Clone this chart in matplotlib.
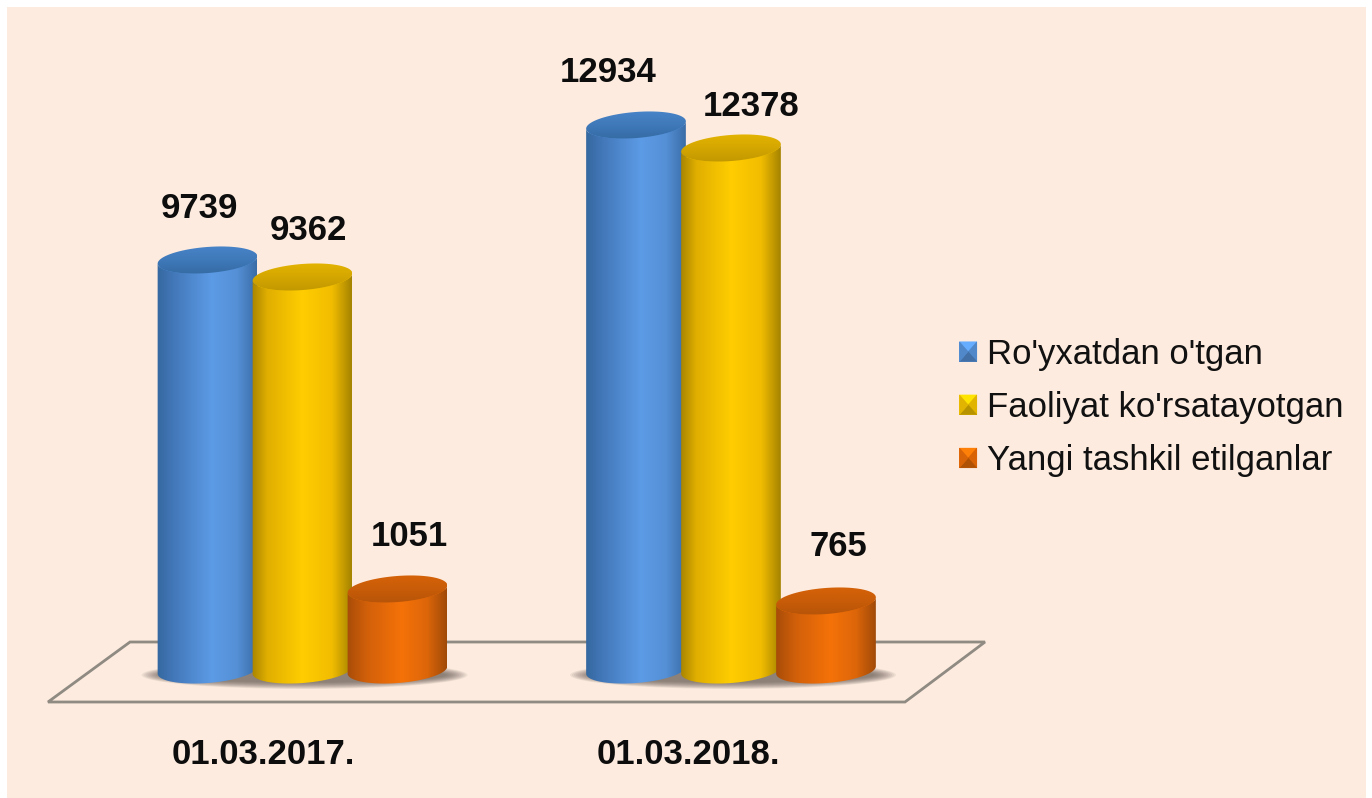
import numpy as np
import matplotlib
matplotlib.use("Agg")
import matplotlib.pyplot as plt
from matplotlib.patches import Polygon, Rectangle, Ellipse
from matplotlib.colors import LinearSegmentedColormap, to_rgb

# ---------- data ----------
dates = ["01.03.2017.", "01.03.2018."]
series_names = ["Ro'yxatdan o'tgan", "Faoliyat ko'rsatayotgan", "Yangi tashkil etilganlar"]
registered = [9739, 12934]
active = [9362, 12378]
new_orgs = [1051, 765]

# the source's 3D projection is not linear: value -> pixels above the floor
scale_values = [0, 765, 1051, 9362, 9739, 12378, 12934, 16500]
scale_pixels = [0, 69, 81, 393, 410, 522, 545, 700]

W, H = 1372, 798
BASE_Y = 670
BG = "#fdebdf"
plt.rcParams["font.family"] = ["Liberation Sans", "DejaVu Sans"]

fig = plt.figure(figsize=(W / 100, H / 100), dpi=100, facecolor="white")
fig.add_artist(Rectangle((7 / W, 0), (W - 13) / W, (H - 7) / H,
                         transform=fig.transFigure, fc=BG, ec="none"))

# main axes: real bars through a custom value scale
GROUP_PX = 428.5
X0_PX = 302.5
ax = fig.add_axes([0, (H - BASE_Y) / H, 1, BASE_Y / H])
ax.set_yscale("function", functions=(lambda v: np.interp(v, scale_values, scale_pixels),
                                     lambda p: np.interp(p, scale_pixels, scale_values)))
ax.set_ylim(0, np.interp(BASE_Y, scale_pixels, scale_values))
ax.set_xlim(-X0_PX / GROUP_PX, (W - X0_PX) / GROUP_PX)
ax.axis("off")
ax.set_zorder(1)

BAR_W = 95 / GROUP_PX
series = [registered, active, new_orgs]
colors = ["#5b9ae5", "#ffcc00", "#f57208"]
group_x = np.arange(len(dates))
containers = []
for i, (vals, col) in enumerate(zip(series, colors)):
    containers.append(ax.bar(group_x + (i - 1) * BAR_W, vals, BAR_W, color=col,
                             label=series_names[i]))
fig.canvas.draw()

# overlay axes in pixel space for the cylinder shading
ov = fig.add_axes([0, 0, 1, 1], facecolor="none")
ov.set_xlim(0, W)
ov.set_ylim(H, 0)
ov.axis("off")
ov.set_zorder(5)

def to_px(x, v):
    px, py = ax.transData.transform((x, v))
    return px, H - py

floor = [(48, 702), (130, 642), (985, 642), (905, 702)]
ov.add_patch(Polygon(floor, closed=True, fc="none", ec="#8f8a82", lw=2, zorder=1))

A, B, TILT = 50.0, 13.0, np.deg2rad(-4.5)
def ell(cx, cy, t):
    x = A * np.cos(t)
    y = B * np.sin(t)
    return cx + x * np.cos(TILT) - y * np.sin(TILT), cy + x * np.sin(TILT) + y * np.cos(TILT)

body_maps = [
    LinearSegmentedColormap.from_list("b", [(0, "#35689f"), (.18, "#4479bb"), (.55, "#5c9be6"), (.8, "#5590d6"), (1, "#3a6da8")]),
    LinearSegmentedColormap.from_list("y", [(0, "#a98500"), (.15, "#e0ae00"), (.5, "#ffcd00"), (.8, "#f2bd00"), (1, "#a58300")]),
    LinearSegmentedColormap.from_list("o", [(0, "#a84c08"), (.2, "#d2600a"), (.55, "#f57208"), (.8, "#dd660a"), (1, "#a04a08")]),
]
top_maps = [
    LinearSegmentedColormap.from_list("bt", ["#33689f", "#3f79b9", "#4a86cc"]),
    LinearSegmentedColormap.from_list("yt", ["#bd9400", "#d4a600", "#e8b800"]),
    LinearSegmentedColormap.from_list("ot", ["#b2520a", "#c85c08", "#d96408"]),
]
grad = np.linspace(0, 1, 256).reshape(1, -1)
vgrad = np.linspace(0, 1, 256).reshape(-1, 1)

# soft floor shadows
for g in group_x:
    x_l, _ = to_px(g - BAR_W, 0)
    x_r, _ = to_px(g + BAR_W, 0)
    for k in range(12):
        ov.add_patch(Ellipse(((x_l + x_r) / 2 + 2, BASE_Y + 5), (x_r - x_l) + 136 - k * 4, 28 - k * 1.2,
                             fc="#5d554c", ec="none", alpha=0.09, zorder=1.5))

t_low = np.linspace(np.pi, 0, 60)
t_all = np.linspace(0, 2 * np.pi, 120)
for g in group_x:
    for i in range(3):
        z = 2 + i
        bar = containers[i][g]
        cx_data = bar.get_x() + bar.get_width() / 2
        cx, yt = to_px(cx_data, bar.get_height())
        _, yb = to_px(cx_data, 0)
        lx, ly = ell(cx, yb, t_low)
        tx, ty = ell(cx, yt, t_low[::-1])
        outline = np.column_stack([np.r_[lx, tx], np.r_[ly, ty]])
        clip = Polygon(outline, closed=True, transform=ov.transData, fc="none", ec="none")
        ov.add_patch(clip)
        im = ov.imshow(grad, cmap=body_maps[i], extent=(cx - A, cx + A, yb + 20, yt - 20),
                       aspect="auto", zorder=z, interpolation="bilinear")
        im.set_clip_path(clip)
        ex, ey = ell(cx, yt, t_all)
        clip2 = Polygon(np.column_stack([ex, ey]), closed=True, transform=ov.transData, fc="none", ec="none")
        ov.add_patch(clip2)
        im2 = ov.imshow(vgrad, cmap=top_maps[i], extent=(cx - A, cx + A, yt + B + 5, yt - B - 5),
                        origin="lower", aspect="auto", zorder=z + 0.5, interpolation="bilinear")
        im2.set_clip_path(clip2)
ov.set_xlim(0, W)
ov.set_ylim(H, 0)

# value labels: (dx, dy) from the bar top, pixels
label_dx = [[-8, 6, 12], [-28, 20, 12]]
label_dy = [[51, 46, 52], [53, 41, 55]]
for g in group_x:
    for i in range(3):
        bar = containers[i][g]
        xc = bar.get_x() + bar.get_width() / 2
        ax.annotate(str(series[i][g]), (xc, bar.get_height()),
                    xytext=(label_dx[g][i] * 0.72, label_dy[g][i] * 0.72), textcoords="offset points",
                    ha="center", va="center", fontsize=25, fontweight="bold", color="#0d0d0d",
                    annotation_clip=False, zorder=20)

# category labels
label_offset = [-39, -43]
for g in group_x:
    px, _ = to_px(g, 0)
    ov.text(px + label_offset[g], 754, dates[g], ha="center", va="center",
            fontsize=25, fontweight="bold", color="#0d0d0d", zorder=20)

# legend
handles = [c[0] for c in containers]
leg = ov.legend(handles, series_names, loc="upper left", bbox_to_anchor=(959.5 / W, 1 - 338 / H),
                bbox_transform=fig.transFigure, frameon=False, fontsize=25, handlelength=0.5, handleheight=0.5,
                handletextpad=0.28, labelspacing=0.58, borderpad=0, borderaxespad=0, labelcolor="#111111")
leg.set_zorder(30)

# bevel on the legend keys
fig.canvas.draw()
bevel_shades = [1.12, 0.88, 0.72, 0.88]
for h, col in zip(leg.legend_handles, colors):
    bb = h.get_window_extent()
    x0, x1 = bb.x0, bb.x1
    y0, y1 = H - bb.y1, H - bb.y0
    mx, my = (x0 + x1) / 2, (y0 + y1) / 2
    corners = [(x0, y0), (x1, y0), (x1, y1), (x0, y1)]
    for k, shade in enumerate(bevel_shades):
        c = np.clip(np.array(to_rgb(col)) * shade, 0, 1)
        tri = [corners[k], corners[(k + 1) % 4], (mx, my)]
        ov.add_patch(Polygon(tri, closed=True, fc=c, ec=c, lw=0.3, zorder=40))

fig.savefig("out.png", dpi=100, facecolor=fig.get_facecolor())
